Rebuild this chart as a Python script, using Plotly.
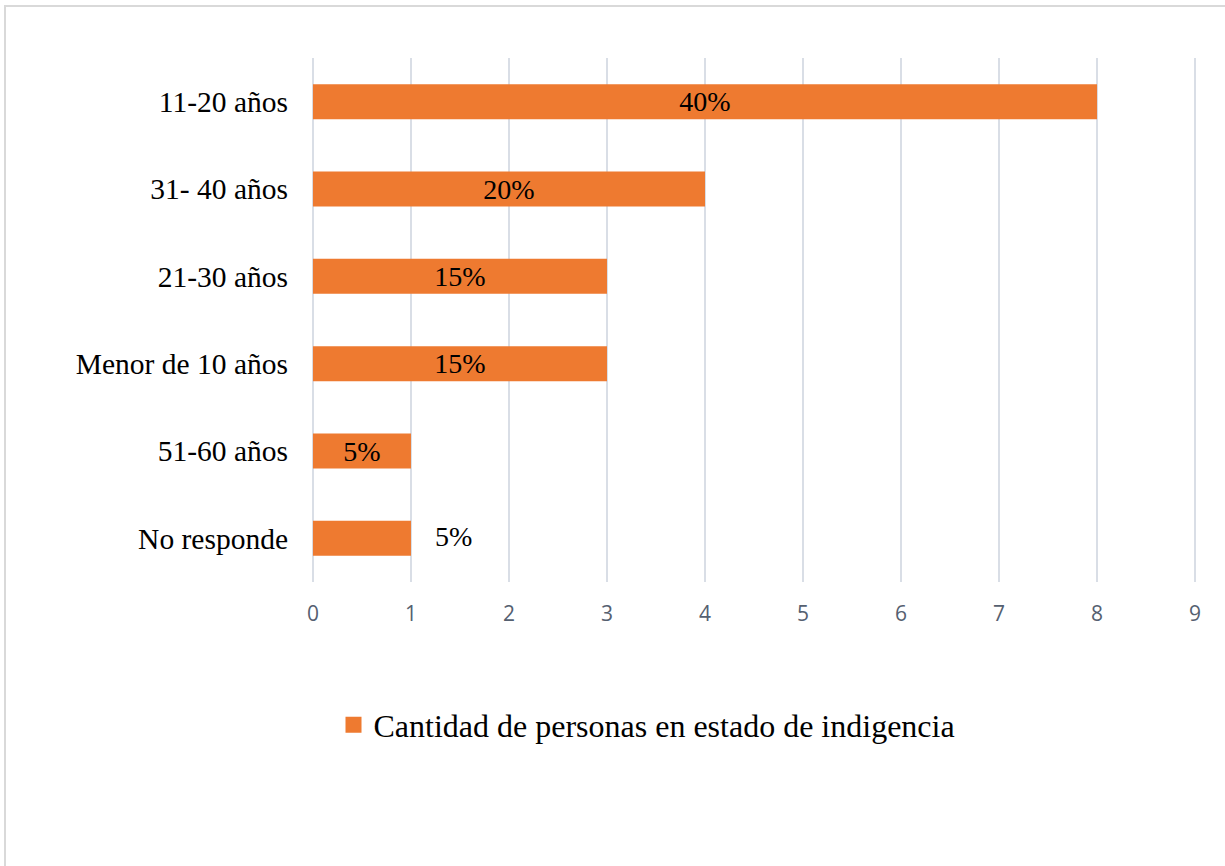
import plotly.graph_objects as go

# Age groups (top to bottom), counts and percentage labels
categories = ["11-20 años", "31- 40 años", "21-30 años", "Menor de 10 años", "51-60 años", "No responde"]
counts = [8, 4, 3, 3, 1, 1]
pct_labels = ["40%", "20%", "15%", "15%", "5%", "5%"]
series_name = "Cantidad de personas en estado de indigencia"
x_ticks = [0, 1, 2, 3, 4, 5, 6, 7, 8, 9]

BAR_COLOR = "#EE7A30"

# Last label sits to the right of its bar
inside_text = pct_labels[:-1] + [""]

W, H = 1225, 866
PAD = 0.02
L, R, T, B = 311, 28, 58, 284
pw, ph = W - L - R, H - T - B
x_lo, x_hi = -PAD, 9 + PAD

def px_x(px):
    return (px - L) / pw

def px_y(py):
    return (H - B - py) / ph

fig = go.Figure()
fig.add_trace(go.Bar(
    y=categories,
    x=counts,
    orientation="h",
    name=series_name,
    width=0.4,
    marker=dict(color=BAR_COLOR, line=dict(width=0)),
    text=inside_text,
    textposition="inside",
    insidetextanchor="middle",
    constraintext="none",
    textfont=dict(family="Liberation Serif", size=28, color="#000000"),
    showlegend=False,
))

# Legend entry with a larger square swatch
fig.add_trace(go.Scatter(
    x=[None], y=[None], mode="markers", name=series_name,
    marker=dict(symbol="square", size=16, color=BAR_COLOR),
    showlegend=True,
))

fig.add_annotation(
    x=counts[-1], y=categories[-1], xref="x", yref="y",
    text=pct_labels[-1], showarrow=False,
    xanchor="left", xshift=22, yshift=2,
    font=dict(family="Liberation Serif", size=28, color="#000000"),
)

# Outer chart frame
fig.add_shape(
    type="rect", xref="paper", yref="paper",
    x0=px_x(5), x1=px_x(1240), y0=px_y(880), y1=px_y(6),
    line=dict(color="#D9D9D9", width=2), fillcolor="rgba(0,0,0,0)",
    layer="below",
)

fig.update_layout(
    width=W, height=H,
    margin=dict(l=L, r=R, t=T, b=B),
    paper_bgcolor="#FFFFFF",
    plot_bgcolor="#FFFFFF",
    bargap=0.6,
    xaxis=dict(
        range=[x_lo, x_hi],
        tickvals=x_ticks,
        showgrid=True,
        gridcolor="#D9DEE6",
        gridwidth=1.5,
        zeroline=True,
        zerolinecolor="#D9DEE6",
        zerolinewidth=1.5,
        showline=False,
        ticks="",
        ticklabelstandoff=17,
        tickfont=dict(family="Open Sans", size=21, color="#556070"),
    ),
    yaxis=dict(
        autorange="reversed",
        showgrid=False,
        zeroline=False,
        showline=False,
        ticks="",
        ticklabelstandoff=22,
        tickfont=dict(family="Liberation Serif", size=29.5, color="#000000"),
    ),
    legend=dict(
        orientation="h",
        x=px_x(647), xanchor="center",
        y=px_y(725), yanchor="middle",
        font=dict(family="Liberation Serif", size=32, color="#000000"),
        itemwidth=30,
    ),
)

fig.write_html("out.html")
